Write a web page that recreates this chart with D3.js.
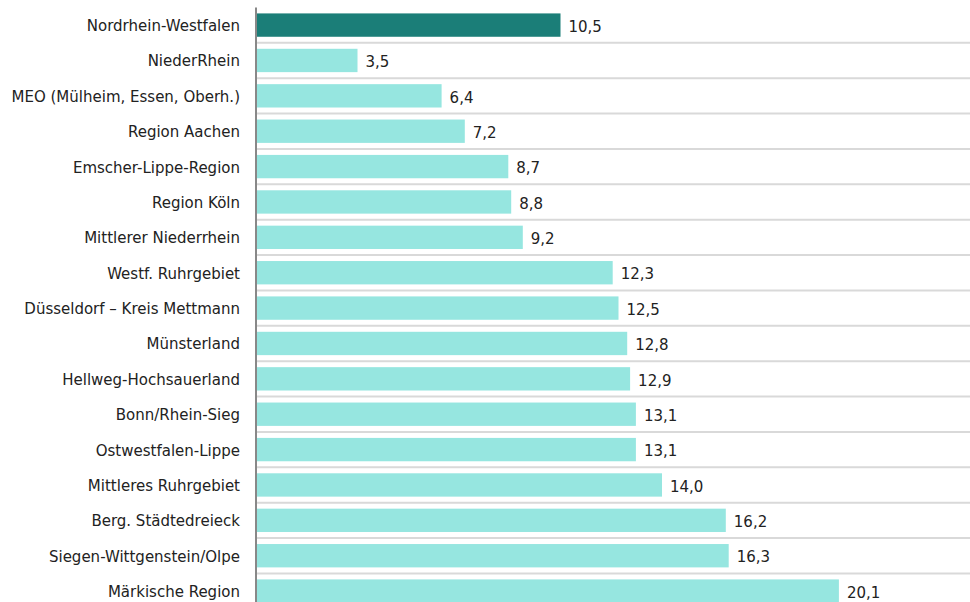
<!DOCTYPE html>
<html><head><meta charset="utf-8">
<script src="https://cdn.jsdelivr.net/npm/d3@7"></script>
<style>body{margin:0;background:#fff}svg{display:block}</style>
</head><body>
<svg id="c" width="970" height="602"></svg>
<script>
const categories = ["Nordrhein-Westfalen","NiederRhein","MEO (Mülheim, Essen, Oberh.)","Region Aachen","Emscher-Lippe-Region","Region Köln","Mittlerer Niederrhein","Westf. Ruhrgebiet","Düsseldorf – Kreis Mettmann","Münsterland","Hellweg-Hochsauerland","Bonn/Rhein-Sieg","Ostwestfalen-Lippe","Mittleres Ruhrgebiet","Berg. Städtedreieck","Siegen-Wittgenstein/Olpe","Märkische Region"];
const values = [10.5,3.5,6.4,7.2,8.7,8.8,9.2,12.3,12.5,12.8,12.9,13.1,13.1,14.0,16.2,16.3,20.1];
const highlight = ["Nordrhein-Westfalen"];

const svg = d3.select("#c");
const font = "'DejaVu Sans', sans-serif";
const x = d3.scaleLinear().domain([0, 24]).range([256, 952]);
const y = d3.scaleBand().domain(categories).range([7.4, 7.4 + 17*35.375]).paddingInner(0.34).paddingOuter(0.17);

// gridlines at band boundaries
const bounds = categories.slice(1).map(c => y(c) - y.step()*y.paddingInner()/2);
svg.append("g").selectAll("line").data(bounds).join("line")
  .attr("x1", 257).attr("x2", 970).attr("y1", d=>d).attr("y2", d=>d)
  .attr("stroke", "#d9d9d9").attr("stroke-width", 2);

svg.append("g").selectAll("rect").data(categories).join("rect")
  .attr("x", x(0)+1).attr("y", d=>y(d)).attr("height", y.bandwidth())
  .attr("width", (d,i)=>x(values[i])-x(0)-1)
  .attr("fill", d=>highlight.includes(d) ? "#1b7e78" : "#96e6e0");

svg.append("g").selectAll("text").data(categories).join("text")
  .attr("x", (d,i)=>x(values[i])+8).attr("y", d=>y(d)+y.bandwidth()/2)
  .attr("dy","0.45em").attr("font-family",font).attr("font-size",15).attr("fill","#222")
  .text((d,i)=>d3.format(".1f")(values[i]).replace(".", ","));

const yAxis = d3.axisLeft(y).tickSize(0).tickPadding(16);
const ga = svg.append("g").attr("transform","translate(256,0)").call(yAxis);
ga.select(".domain").attr("stroke","#888").attr("stroke-width",2).attr("d","M0,7.5V602");
ga.selectAll("text").attr("font-family",font).attr("font-size",15).attr("fill","#222").attr("dy","0.4em");
</script>
</body></html>
